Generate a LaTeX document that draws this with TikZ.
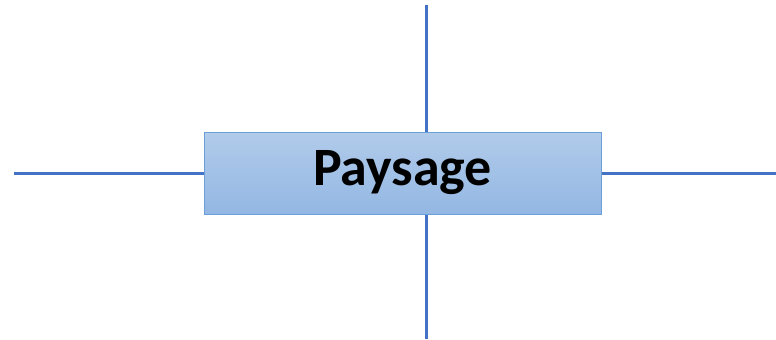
\documentclass[tikz,border=0pt]{standalone}
\usepackage{fontspec}
\setmainfont{Carlito}
\definecolor{axe}{HTML}{4472C4}
\definecolor{boxtop}{HTML}{B1CBEA}
\definecolor{boxbot}{HTML}{93B7E3}
\definecolor{boxline}{HTML}{6A9FD8}
\tikzset{axe/.style={draw=axe,line width=1.5pt},
 titre/.style={rectangle,draw=boxline,line width=0.5pt,top color=boxtop,bottom color=boxbot,minimum width=198.5pt,minimum height=41pt,font=\fontsize{27}{30}\selectfont\bfseries}}
\begin{document}
\begin{tikzpicture}[x=0.5pt,y=-0.5pt]
 \useasboundingbox (0,0) rectangle (776,339);
 \coordinate (haut) at (426,5);
 \coordinate (bas) at (426,339);
 \coordinate (gauche) at (14,173);
 \coordinate (droite) at (776,173);
 \node[titre] (paysage) at (402.5,173) {Paysage};
 \draw[axe] (haut)--(paysage.north-|haut);
 \draw[axe] (bas)--(paysage.south-|bas);
 \draw[axe] (gauche)--(paysage.west);
 \draw[axe] (droite)--(paysage.east);
\end{tikzpicture}
\end{document}
